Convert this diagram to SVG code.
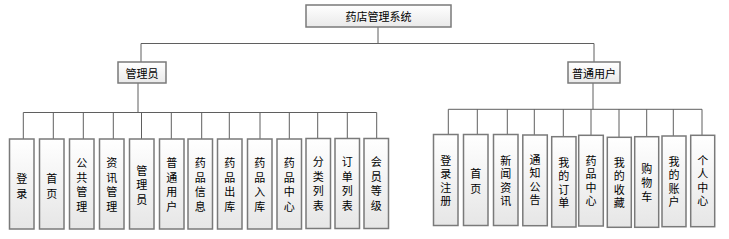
<svg xmlns="http://www.w3.org/2000/svg" width="729" height="239" viewBox="0 0 729 239">
<defs>
<linearGradient id="g" x1="0" y1="0" x2="0" y2="1">
<stop offset="0" stop-color="#ffffff"/>
<stop offset="1" stop-color="#e6e6e6"/>
</linearGradient>
<linearGradient id="gh" x1="0" y1="0" x2="0" y2="1">
<stop offset="0" stop-color="#ffffff"/>
<stop offset="1" stop-color="#e9e9e9"/>
</linearGradient>
</defs>
<style>
.box{fill:url(#g);stroke:#7a7a7a;stroke-width:1.5}
.hbox{fill:url(#gh);stroke:#7a7a7a;stroke-width:1.5}
.t{font-family:"Noto Sans CJK SC","Noto Sans",sans-serif;font-size:11px;fill:#000;text-anchor:middle;dominant-baseline:central}
.c{stroke:#5f5f5f;stroke-width:1;fill:none}
</style>
<rect width="729" height="239" fill="#ffffff"/>
<g id="connectors">
<path class="c" d="M378 27V43.5M141 43.5H594M141 43.5V62M594 43.5V62"/>
<path class="c" d="M138 83V112.5M23.3 112.5H376.7M23.3 112.5V139M53.3 112.5V139M83.3 112.5V139M113.3 112.5V139M141.5 112.5V139M171.3 112.5V139M201.7 112.5V139M229.3 112.5V139M260 112.5V139M289.3 112.5V139M317.7 112.5V139M347.3 112.5V139M376.7 112.5V139"/>
<path class="c" d="M593 83V109.3M448.3 109.3H702M448.3 109.3V134.5M477.3 109.3V134.5M507.3 109.3V134.5M534.3 109.3V135M563.3 109.3V136.7M591 109.3V135.3M619 109.3V137.3M646.7 109.3V136.7M673.3 109.3V136M702 109.3V135.3"/>
</g>
<g id="root"><rect class="hbox" x="306" y="5" width="145" height="22"/><text class="t" x="378.5" y="16">药店管理系统</text></g>
<g id="admin"><rect class="hbox" x="118" y="62" width="48" height="21"/><text class="t" x="142" y="72.5">管理员</text></g>
<g id="user"><rect class="hbox" x="568" y="62" width="52" height="21"/><text class="t" x="594" y="72.5">普通用户</text></g>

<g id="a1"><rect class="box" x="9.5" y="139" width="24.5" height="90"/><text class="t" x="21.75"><tspan x="21.75" y="178">登</tspan><tspan x="21.75" y="192.5">录</tspan></text></g>
<g id="a2"><rect class="box" x="39.5" y="139" width="24.5" height="90"/><text class="t"><tspan x="51.75" y="178">首</tspan><tspan x="51.75" y="192.5">页</tspan></text></g>
<g id="a3"><rect class="box" x="69.5" y="139" width="24.5" height="90"/><text class="t"><tspan x="81.75" y="162">公</tspan><tspan x="81.75" y="176.5">共</tspan><tspan x="81.75" y="191">管</tspan><tspan x="81.75" y="205.5">理</tspan></text></g>
<g id="a4"><rect class="box" x="99.5" y="139" width="24.5" height="90"/><text class="t"><tspan x="111.75" y="162">资</tspan><tspan x="111.75" y="176.5">讯</tspan><tspan x="111.75" y="191">管</tspan><tspan x="111.75" y="205.5">理</tspan></text></g>
<g id="a5"><rect class="box" x="129.5" y="139" width="24.5" height="90"/><text class="t"><tspan x="141.75" y="169.5">管</tspan><tspan x="141.75" y="184">理</tspan><tspan x="141.75" y="198.5">员</tspan></text></g>
<g id="a6"><rect class="box" x="159.5" y="139" width="24.5" height="90"/><text class="t"><tspan x="171.75" y="162">普</tspan><tspan x="171.75" y="176.5">通</tspan><tspan x="171.75" y="191">用</tspan><tspan x="171.75" y="205.5">户</tspan></text></g>
<g id="a7"><rect class="box" x="188" y="139" width="24.5" height="90"/><text class="t"><tspan x="200.25" y="162">药</tspan><tspan x="200.25" y="176.5">品</tspan><tspan x="200.25" y="191">信</tspan><tspan x="200.25" y="205.5">息</tspan></text></g>
<g id="a8"><rect class="box" x="217.5" y="139" width="24.5" height="90"/><text class="t"><tspan x="229.75" y="162">药</tspan><tspan x="229.75" y="176.5">品</tspan><tspan x="229.75" y="191">出</tspan><tspan x="229.75" y="205.5">库</tspan></text></g>
<g id="a9"><rect class="box" x="247.5" y="139" width="24.5" height="90"/><text class="t"><tspan x="259.75" y="162">药</tspan><tspan x="259.75" y="176.5">品</tspan><tspan x="259.75" y="191">入</tspan><tspan x="259.75" y="205.5">库</tspan></text></g>
<g id="a10"><rect class="box" x="277" y="139" width="24.5" height="90"/><text class="t"><tspan x="289.25" y="162">药</tspan><tspan x="289.25" y="176.5">品</tspan><tspan x="289.25" y="191">中</tspan><tspan x="289.25" y="205.5">心</tspan></text></g>
<g id="a11"><rect class="box" x="306" y="138.5" width="24.5" height="90"/><text class="t"><tspan x="318.25" y="161">分</tspan><tspan x="318.25" y="175.5">类</tspan><tspan x="318.25" y="190">列</tspan><tspan x="318.25" y="204.5">表</tspan></text></g>
<g id="a12"><rect class="box" x="335" y="138.5" width="24.5" height="90"/><text class="t"><tspan x="347.25" y="161">订</tspan><tspan x="347.25" y="175.5">单</tspan><tspan x="347.25" y="190">列</tspan><tspan x="347.25" y="204.5">表</tspan></text></g>
<g id="a13"><rect class="box" x="364" y="138.5" width="24.5" height="90"/><text class="t"><tspan x="376.25" y="161">会</tspan><tspan x="376.25" y="175.5">员</tspan><tspan x="376.25" y="190">等</tspan><tspan x="376.25" y="204.5">级</tspan></text></g>

<g id="u1"><rect class="box" x="433.5" y="134.5" width="24.5" height="91"/><text class="t"><tspan x="445.75" y="159.5">登</tspan><tspan x="445.75" y="173">录</tspan><tspan x="445.75" y="186.5">注</tspan><tspan x="445.75" y="200">册</tspan></text></g>
<g id="u2"><rect class="box" x="463.5" y="134.5" width="24.5" height="91"/><text class="t"><tspan x="475.75" y="173">首</tspan><tspan x="475.75" y="187.5">页</tspan></text></g>
<g id="u3"><rect class="box" x="493.5" y="134.5" width="24.5" height="91"/><text class="t"><tspan x="505.75" y="159.5">新</tspan><tspan x="505.75" y="173">闻</tspan><tspan x="505.75" y="186.5">资</tspan><tspan x="505.75" y="200">讯</tspan></text></g>
<g id="u4"><rect class="box" x="522.8" y="135" width="24.5" height="90.7"/><text class="t"><tspan x="535" y="158.5">通</tspan><tspan x="535" y="172">知</tspan><tspan x="535" y="185.5">公</tspan><tspan x="535" y="199">告</tspan></text></g>
<g id="u5"><rect class="box" x="551.7" y="136.7" width="24.3" height="90.3"/><text class="t"><tspan x="563.85" y="161.5">我</tspan><tspan x="563.85" y="175">的</tspan><tspan x="563.85" y="188.5">订</tspan><tspan x="563.85" y="202">单</tspan></text></g>
<g id="u6"><rect class="box" x="578.7" y="135.3" width="24.6" height="90.7"/><text class="t"><tspan x="591" y="159.5">药</tspan><tspan x="591" y="173">品</tspan><tspan x="591" y="186.5">中</tspan><tspan x="591" y="200">心</tspan></text></g>
<g id="u7"><rect class="box" x="607.3" y="137.3" width="24" height="90"/><text class="t"><tspan x="619.3" y="161.5">我</tspan><tspan x="619.3" y="175">的</tspan><tspan x="619.3" y="188.5">收</tspan><tspan x="619.3" y="202">藏</tspan></text></g>
<g id="u8"><rect class="box" x="634.7" y="136.7" width="24" height="90.6"/><text class="t"><tspan x="646.7" y="168">购</tspan><tspan x="646.7" y="182">物</tspan><tspan x="646.7" y="196">车</tspan></text></g>
<g id="u9"><rect class="box" x="662" y="136" width="24" height="90.7"/><text class="t"><tspan x="674" y="160.5">我</tspan><tspan x="674" y="174">的</tspan><tspan x="674" y="187.5">账</tspan><tspan x="674" y="201">户</tspan></text></g>
<g id="u10"><rect class="box" x="690.7" y="135.3" width="24" height="91.4"/><text class="t"><tspan x="702.7" y="159.5">个</tspan><tspan x="702.7" y="173">人</tspan><tspan x="702.7" y="186.5">中</tspan><tspan x="702.7" y="200">心</tspan></text></g>
</svg>
